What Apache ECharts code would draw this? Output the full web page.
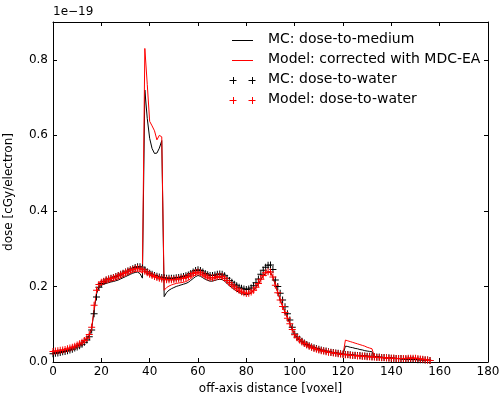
<!DOCTYPE html>
<html>
<head>
<meta charset="utf-8">
<script src="https://cdn.jsdelivr.net/npm/echarts@6/dist/echarts.min.js"></script>
<style>
  html, body { margin: 0; padding: 0; background: #fff; }
  #chart { width: 499px; height: 394px; }
</style>
</head>
<body>
<div id="chart"></div>
<script>
// Dose profiles along the off-axis direction, in units of 1e-19 cGy/electron, one value per voxel (0..156)

const xTicks = [0, 20, 40, 60, 80, 100, 120, 140, 160, 180];
const yTicks = [0.0, 0.2, 0.4, 0.6, 0.8];

// MC: dose-to-medium (black line)
const mcMedium = [
  .024, .025, .026, .027, .029, .030, .032, .034, .036, .039,
  .042, .045, .049, .054, .060, .069, .088, .135, .180, .198,
  .203, .206, .208, .210, .212, .213, .215, .217, .220, .223,
  .226, .229, .232, .235, .237, .238, .234, .222, .720, .645,
  .592, .565, .552, .553, .566, .586, .173, .184, .190, .194,
  .197, .200, .202, .204, .206, .208, .211, .216, .221, .226,
  .229, .227, .223, .219, .216, .214, .214, .216, .218, .219,
  .218, .214, .208, .202, .197, .192, .188, .184, .181, .179,
  .178, .179, .183, .189, .197, .207, .218, .228, .235, .238,
  .237, .225, .204, .184, .165, .148, .132, .117, .102, .087,
  .073, .065, .059, .054, .050, .046, .043, .040, .037, .035,
  .033, .031, .029, .028, .026, .025, .024, .023, .022, .021,
  .020, .042, .041, .039, .038, .036, .035, .033, .032, .030,
  .029, .028, .027, .014, .013, .012, .012, .011, .011, .010,
  .010, .009, .009, .009, .008, .008, .008, .008, .007, .007,
  .007, .006, .006, .005, .005, .004, .004
];

// Model: corrected with MDC-EA (red line)
const modelCorrected = [
  .026, .027, .028, .029, .031, .032, .034, .036, .038, .041,
  .044, .047, .051, .056, .062, .071, .090, .140, .185, .201,
  .206, .209, .211, .213, .215, .216, .218, .220, .223, .226,
  .229, .232, .235, .238, .240, .241, .240, .236, .830, .735,
  .637, .625, .612, .588, .600, .596, .190, .197, .201, .204,
  .206, .208, .209, .210, .211, .213, .216, .221, .226, .231,
  .234, .232, .228, .224, .221, .219, .219, .221, .223, .224,
  .223, .219, .213, .207, .202, .197, .192, .188, .185, .182,
  .180, .181, .184, .190, .198, .208, .219, .229, .236, .239,
  .238, .225, .204, .184, .165, .148, .132, .117, .102, .087,
  .073, .065, .059, .054, .050, .046, .043, .040, .037, .035,
  .033, .031, .029, .028, .026, .025, .024, .023, .022, .021,
  .020, .058, .056, .054, .052, .050, .048, .046, .044, .042,
  .039, .037, .035, .014, .013, .012, .012, .011, .011, .010,
  .010, .010, .009, .009, .009, .009, .010, .010, .011, .011,
  .010, .009, .008, .007, .006, .005, .004
];

// MC: dose-to-water (black plus markers)
const mcWater = [
  .022, .023, .024, .025, .027, .028, .030, .032, .034, .037,
  .040, .043, .047, .052, .058, .067, .085, .128, .172, .198,
  .208, .213, .217, .220, .222, .224, .226, .229, .232, .235,
  .238, .241, .244, .247, .250, .252, .252, .249, .244, .239,
  .235, .232, .229, .227, .225, .224, .223, .222, .222, .222,
  .222, .223, .224, .225, .226, .228, .230, .234, .238, .242,
  .244, .242, .238, .234, .231, .229, .229, .230, .232, .233,
  .232, .228, .222, .216, .211, .206, .202, .198, .195, .193,
  .192, .193, .196, .202, .210, .220, .232, .243, .251, .256,
  .257, .245, .217, .200, .182, .164, .146, .128, .111, .092,
  .074, .066, .060, .055, .050, .046, .043, .040, .038, .036,
  .034, .032, .030, .029, .027, .026, .025, .024, .023, .022,
  .021, .020, .020, .019, .018, .018, .017, .017, .016, .016,
  .015, .015, .014, .014, .013, .013, .012, .012, .011, .011,
  .010, .010, .009, .009, .009, .008, .008, .008, .007, .007,
  .007, .006, .006, .006, .005, .005, .004
];

// Model: dose-to-water (red plus markers)
const modelWater = [
  .028, .029, .030, .031, .032, .033, .035, .037, .039, .042,
  .045, .048, .052, .057, .063, .073, .092, .150, .190, .205,
  .211, .214, .217, .219, .221, .223, .225, .228, .231, .234,
  .237, .240, .243, .245, .247, .248, .247, .244, .240, .236,
  .232, .229, .226, .224, .222, .220, .219, .218, .218, .218,
  .218, .219, .220, .221, .222, .224, .226, .230, .234, .237,
  .238, .236, .232, .228, .225, .223, .223, .224, .226, .227,
  .226, .222, .216, .210, .204, .199, .194, .190, .186, .183,
  .181, .182, .185, .190, .198, .208, .219, .229, .236, .239,
  .238, .225, .203, .183, .164, .147, .131, .116, .101, .086,
  .072, .064, .058, .053, .049, .045, .042, .039, .036, .034,
  .032, .030, .029, .027, .026, .025, .024, .023, .022, .021,
  .020, .019, .019, .018, .017, .017, .016, .016, .015, .015,
  .014, .014, .013, .013, .012, .012, .011, .011, .011, .010,
  .010, .010, .009, .009, .009, .009, .009, .010, .010, .010,
  .010, .009, .008, .007, .006, .005, .004
];

const FONT = 'DejaVu Sans';
const withVoxel = arr => arr.map((v, i) => [i, v]);

// thin plus sign used as a marker
const PLUS = 'path://M0,3h7v1h-7zM3,0h1v7h-1z';

const chart = echarts.init(document.getElementById('chart'), null, { renderer: 'canvas' });

const frame = { show: true, onZero: false, lineStyle: { color: '#000', width: 1 } };
const tickIn = { show: true, inside: true, length: 4, lineStyle: { color: '#000', width: 1 } };

// legend drawn as graphic rows: sample at x 232..253, text at x 268
const legendRows = [
  { label: 'MC: dose-to-medium', color: '#000', kind: 'line' },
  { label: 'Model: corrected with MDC-EA', color: '#ff0000', kind: 'line' },
  { label: 'MC: dose-to-water', color: '#000', kind: 'plus' },
  { label: 'Model: dose-to-water', color: '#ff0000', kind: 'plus' }
];
const legendGraphics = [];
legendRows.forEach((row, k) => {
  const y = 40 + k * 20;
  if (row.kind === 'line') {
    legendGraphics.push({ type: 'line', shape: { x1: 232, y1: y + 0.5, x2: 253, y2: y + 0.5 },
      style: { stroke: row.color, lineWidth: 1 }, silent: true });
  } else {
    [233, 252].forEach(cx => {
      legendGraphics.push({ type: 'line', shape: { x1: cx - 3.5, y1: y + 0.5, x2: cx + 3.5, y2: y + 0.5 },
        style: { stroke: row.color, lineWidth: 1 }, silent: true });
      legendGraphics.push({ type: 'line', shape: { x1: cx + 0.5, y1: y - 3, x2: cx + 0.5, y2: y + 4 },
        style: { stroke: row.color, lineWidth: 1 }, silent: true });
    });
  }
  legendGraphics.push({ type: 'text', left: 268, top: y - 8,
    style: { text: row.label, fill: '#000', font: '14px "' + FONT + '"' }, silent: true });
});
legendGraphics.push({ type: 'text', left: 53, top: 6,
  style: { text: '1e\u221219', fill: '#000', font: '12px "' + FONT + '"' }, silent: true });

chart.setOption({
  animation: false,
  backgroundColor: '#fff',
  textStyle: { fontFamily: FONT },
  grid: { left: 53, right: 11, top: 22, bottom: 32, containLabel: false, outerBoundsMode: 'none' },
  xAxis: [
    {
      type: 'value', min: xTicks[0], max: xTicks[xTicks.length - 1], interval: 20,
      position: 'bottom',
      name: 'off-axis distance [voxel]', nameLocation: 'middle', nameGap: 21,
      nameTextStyle: { color: '#000', fontSize: 12, fontFamily: FONT },
      axisLine: frame, axisTick: tickIn, splitLine: { show: false },
      axisLabel: { color: '#000', fontSize: 12, fontFamily: FONT, margin: 4 }
    },
    {
      type: 'value', min: xTicks[0], max: xTicks[xTicks.length - 1], interval: 20,
      position: 'top', axisLine: frame, axisTick: tickIn, splitLine: { show: false },
      axisLabel: { show: false }
    }
  ],
  yAxis: [
    {
      type: 'value', min: 0, max: 0.9, interval: 0.2,
      position: 'left',
      name: 'dose [cGy/electron]', nameLocation: 'middle', nameGap: 38,
      nameTextStyle: { color: '#000', fontSize: 12, fontFamily: FONT },
      axisLine: frame, axisTick: tickIn, splitLine: { show: false },
      axisLabel: {
        color: '#000', fontSize: 12, fontFamily: FONT, margin: 5, showMaxLabel: false,
        formatter: v => (yTicks.some(t => Math.abs(t - v) < 1e-9) ? v.toFixed(1) : '')
      }
    },
    {
      type: 'value', min: 0, max: 0.9, interval: 0.2,
      position: 'right', axisLine: frame, axisTick: tickIn, splitLine: { show: false },
      axisLabel: { show: false }
    }
  ],
  graphic: legendGraphics,
  series: [
    {
      name: 'MC: dose-to-medium', type: 'line', data: withVoxel(mcMedium),
      showSymbol: false, symbol: 'none', lineStyle: { color: '#000', width: 1 }, z: 2
    },
    {
      name: 'Model: corrected with MDC-EA', type: 'line', data: withVoxel(modelCorrected),
      showSymbol: false, symbol: 'none', lineStyle: { color: '#ff0000', width: 1 }, z: 2
    },
    {
      name: 'MC: dose-to-water', type: 'scatter', data: withVoxel(mcWater),
      symbol: PLUS, symbolSize: 7, itemStyle: { color: '#000', opacity: 1 }, z: 3
    },
    {
      name: 'Model: dose-to-water', type: 'scatter', data: withVoxel(modelWater),
      symbol: PLUS, symbolSize: 7, itemStyle: { color: '#ff0000', opacity: 1 }, z: 4
    }
  ]
});
</script>
</body>
</html>
